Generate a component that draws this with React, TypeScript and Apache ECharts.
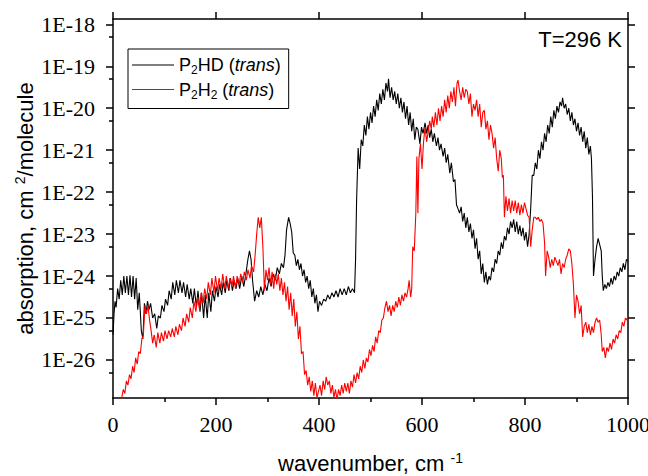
import React, { useEffect, useRef } from "react";
import * as echarts from "echarts";

// y values are log10 of absorption (cm^2/molecule)
const Y_MIN = -26.907;
const Y_MAX = -17.873;
const xMajorTicks = [0, 200, 400, 600, 800, 1000];
const yDecades = [-26, -25, -24, -23, -22, -21, -20, -19, -18];
const yMinor = [-26.301, -25.301, -24.301, -23.301, -22.301, -21.301, -20.301, -19.301, -18.301];
const seriesNames = ["P2HD (trans)", "P2H2 (trans)"];
const temperatureLabel = "T=296 K";

const p2hdLog: [number, number][] = [
  [0, -25.4], [2, -24.9], [4, -24.6], [6, -24.75], [9, -24.3], [12, -24.55], [15, -24.1], [18, -24.45],
  [21, -24.0], [24, -24.4], [27, -24.0], [30, -24.45], [33, -23.98], [36, -24.5], [39, -24.0], [42, -24.55],
  [45, -24.05], [48, -24.8], [51, -24.4], [55, -25.3], [58, -25.5], [61, -24.65], [64, -24.9], [67, -24.6],
  [70, -24.8], [73, -24.65], [77, -25.0], [81, -24.9], [85, -25.25], [88, -24.95], [92, -25.0], [95, -24.7],
  [99, -24.85], [102, -24.55], [106, -24.7], [109, -24.35], [113, -24.55], [116, -24.15], [120, -24.45],
  [123, -24.1], [127, -24.4], [130, -24.1], [134, -24.4], [137, -24.15], [141, -24.5], [144, -24.2],
  [148, -24.55], [151, -24.3], [155, -24.65], [158, -24.3], [162, -24.75], [165, -24.35], [169, -24.85],
  [172, -24.4], [176, -25.0], [179, -24.45], [183, -25.0], [186, -24.4], [190, -24.85], [193, -24.35],
  [197, -24.6], [200, -24.25], [204, -24.5], [207, -24.2], [211, -24.45], [214, -24.15], [218, -24.4],
  [221, -24.1], [225, -24.35], [228, -24.05], [232, -24.35], [235, -24.1], [239, -24.3], [242, -24.05],
  [246, -24.3], [250, -24.0], [254, -24.25], [258, -23.95], [262, -23.6], [265, -23.4], [268, -23.6],
  [271, -24.1], [275, -24.6], [279, -24.35], [283, -24.5], [287, -24.25], [291, -24.45], [295, -24.2],
  [299, -24.35], [303, -24.05], [307, -24.25], [311, -23.95], [315, -24.1], [319, -23.8], [323, -23.95],
  [327, -23.7], [331, -23.8], [334, -23.5], [337, -22.9], [341, -22.6], [344, -22.75], [347, -22.95],
  [350, -23.45], [353, -23.5], [356, -23.75], [359, -23.6], [362, -23.85], [365, -23.7], [368, -24.0],
  [371, -23.85], [374, -24.15], [377, -24.0], [380, -24.3], [383, -24.1], [386, -24.5], [389, -24.3],
  [392, -24.65], [395, -24.45], [398, -24.85], [401, -24.6], [405, -24.7], [409, -24.55], [413, -24.6],
  [417, -24.45], [421, -24.55], [425, -24.4], [429, -24.5], [433, -24.35], [437, -24.5], [441, -24.3],
  [445, -24.45], [449, -24.3], [453, -24.45], [457, -24.25], [461, -24.4], [465, -24.3], [469, -24.4],
  [471, -23.6], [473, -22.2], [476, -20.95], [479, -21.45], [482, -20.75], [485, -20.9], [488, -20.4],
  [491, -20.65], [494, -20.2], [497, -20.5], [500, -20.1], [503, -20.35], [506, -19.95], [509, -20.2],
  [512, -19.8], [515, -20.05], [518, -19.65], [521, -19.9], [524, -19.55], [527, -19.8], [530, -19.4],
  [533, -19.6], [535, -19.3], [538, -19.75], [541, -19.5], [544, -19.8], [547, -19.6], [550, -19.9],
  [553, -19.65], [556, -20.0], [559, -19.75], [562, -20.1], [565, -19.85], [568, -20.25], [571, -19.95],
  [574, -20.4], [577, -20.1], [580, -20.55], [583, -20.25], [586, -20.75], [589, -20.45], [592, -20.5],
  [596, -20.85], [599, -20.45], [602, -20.6], [606, -20.35], [609, -20.6], [612, -20.4], [615, -20.7],
  [618, -20.5], [621, -20.8], [624, -20.6], [628, -20.9], [631, -20.7], [634, -21.0], [637, -20.85],
  [641, -21.15], [644, -20.95], [647, -21.3], [650, -21.1], [654, -21.55], [657, -21.3], [661, -21.75],
  [664, -21.7], [667, -22.3], [670, -22.4], [673, -22.5], [676, -22.35], [679, -22.7], [682, -22.5],
  [685, -22.85], [688, -22.6], [691, -22.95], [694, -22.75], [697, -23.1], [700, -22.9], [703, -23.35],
  [706, -23.1], [709, -23.6], [712, -23.4], [715, -23.95], [718, -23.7], [721, -24.15], [724, -23.9],
  [727, -24.2], [730, -24.0], [733, -24.1], [736, -23.8], [739, -23.9], [742, -23.6], [745, -23.7],
  [748, -23.4], [751, -23.5], [754, -23.2], [757, -23.35], [760, -23.05], [763, -23.15], [766, -22.85],
  [769, -23.0], [772, -22.7], [775, -22.85], [778, -22.65], [781, -22.95], [784, -22.7], [787, -23.0],
  [790, -22.8], [793, -23.05], [796, -22.85], [799, -23.15], [802, -22.95], [805, -23.3], [808, -23.0],
  [811, -22.4], [814, -21.6], [817, -21.6], [820, -21.3], [823, -21.45], [826, -21.0], [829, -21.2],
  [832, -20.8], [835, -21.0], [838, -20.6], [841, -20.8], [844, -20.4], [847, -20.6], [850, -20.2],
  [853, -20.45], [856, -20.05], [859, -20.25], [862, -19.95], [865, -20.1], [868, -19.85], [871, -19.95],
  [873, -19.75], [876, -20.0], [879, -19.9], [882, -20.15], [885, -20.0], [888, -20.3], [891, -20.1],
  [894, -20.4], [897, -20.25], [900, -20.55], [903, -20.35], [906, -20.65], [909, -20.45], [912, -20.8],
  [915, -20.55], [918, -20.95], [921, -20.7], [924, -21.1], [927, -20.9], [929, -21.2], [931, -22.1],
  [933, -24.0], [936, -23.6], [939, -23.3], [942, -23.1], [945, -23.25], [948, -23.4], [950, -24.0],
  [952, -24.35], [955, -24.2], [958, -24.3], [961, -24.15], [964, -24.25], [967, -24.05], [970, -24.2],
  [973, -24.0], [976, -24.1], [979, -23.9], [982, -24.0], [985, -23.8], [988, -23.9], [991, -23.7],
  [994, -23.85], [997, -23.6], [1000, -23.65],
];

const p2h2Log: [number, number][] = [
  [14, -27.0], [17, -26.9], [20, -26.7], [23, -26.8], [26, -26.5], [29, -26.6], [32, -26.35], [35, -26.45],
  [38, -26.15], [41, -26.3], [44, -25.95], [47, -26.1], [50, -25.8], [53, -25.85], [56, -25.5], [59, -25.4],
  [62, -24.7], [65, -24.9], [68, -24.7], [71, -25.05], [74, -25.3], [77, -25.6], [80, -25.4], [84, -25.7],
  [87, -25.35], [91, -25.6], [94, -25.35], [98, -25.55], [101, -25.3], [105, -25.5], [108, -25.3],
  [112, -25.45], [115, -25.25], [119, -25.45], [122, -25.2], [126, -25.4], [129, -25.15], [133, -25.3],
  [136, -25.0], [140, -25.2], [143, -24.9], [147, -25.1], [150, -24.75], [154, -25.0], [157, -24.6],
  [161, -24.85], [164, -24.5], [168, -24.8], [171, -24.4], [175, -24.65], [178, -24.3], [182, -24.55],
  [185, -24.15], [189, -24.45], [192, -24.05], [196, -24.4], [199, -24.0], [203, -24.35], [206, -24.05],
  [210, -24.3], [213, -23.95], [217, -24.3], [220, -24.0], [224, -24.3], [227, -24.05], [231, -24.25],
  [234, -24.0], [238, -24.3], [241, -24.0], [245, -24.2], [248, -23.95], [252, -24.15], [255, -23.9],
  [259, -24.1], [262, -23.85], [266, -24.05], [269, -23.75], [273, -23.9], [276, -23.5], [279, -23.0],
  [282, -22.6], [285, -22.85], [288, -22.6], [291, -23.3], [294, -24.35], [297, -23.85], [300, -24.1],
  [303, -23.8], [306, -24.2], [309, -23.9], [312, -24.3], [315, -23.95], [318, -24.2], [321, -23.95],
  [324, -24.35], [327, -24.05], [330, -24.45], [333, -24.15], [336, -24.6], [339, -24.25], [342, -24.8],
  [345, -24.4], [348, -24.95], [351, -24.55], [354, -25.2], [357, -24.85], [360, -25.5], [363, -25.2],
  [366, -25.85], [369, -25.8], [372, -26.35], [375, -26.25], [378, -26.6], [381, -26.4], [384, -26.75],
  [387, -26.5], [390, -26.85], [393, -26.55], [396, -26.9], [399, -26.75], [402, -26.6], [405, -26.85],
  [408, -26.5], [411, -26.7], [414, -26.4], [417, -26.6], [420, -26.5], [423, -26.8], [426, -26.6],
  [429, -26.9], [432, -26.7], [435, -26.95], [438, -26.7], [441, -26.85], [444, -26.6], [447, -26.8],
  [450, -26.55], [453, -26.75], [456, -26.55], [459, -26.8], [462, -26.5], [465, -26.65], [468, -26.35],
  [471, -26.55], [474, -26.3], [477, -26.45], [480, -26.15], [483, -26.3], [486, -26.0], [489, -26.2],
  [492, -25.95], [495, -26.05], [498, -25.75], [501, -25.9], [504, -25.65], [507, -25.8], [510, -25.45],
  [513, -25.6], [516, -25.3], [519, -25.35], [522, -25.05], [525, -25.0], [528, -24.75], [531, -24.6],
  [534, -24.85], [537, -24.7], [540, -24.95], [543, -24.7], [546, -24.85], [549, -24.6], [552, -24.75],
  [555, -24.5], [558, -24.7], [561, -24.45], [564, -24.6], [567, -24.4], [570, -24.5], [573, -24.3],
  [575, -24.1], [578, -24.5], [580, -24.3], [582, -23.3], [585, -23.4], [588, -22.5], [590, -21.15],
  [592, -22.5], [594, -21.2], [597, -20.85], [600, -21.45], [603, -20.8], [606, -20.45], [609, -20.8],
  [612, -20.55], [615, -20.3], [618, -20.5], [620, -20.2], [623, -20.45], [626, -20.1], [629, -20.4],
  [632, -20.0], [635, -20.3], [638, -19.95], [641, -20.2], [644, -19.8], [647, -20.1], [650, -19.7],
  [653, -20.0], [656, -19.6], [659, -19.85], [662, -19.5], [665, -19.95], [668, -19.4], [670, -19.33],
  [673, -19.6], [676, -19.8], [679, -19.5], [682, -19.75], [685, -19.55], [688, -19.6], [691, -19.9],
  [694, -19.65], [697, -20.2], [700, -19.9], [703, -20.05], [706, -19.8], [709, -20.2], [712, -19.9],
  [715, -20.45], [718, -20.1], [721, -20.05], [724, -20.5], [727, -20.3], [730, -20.75], [733, -20.4],
  [736, -20.6], [739, -20.95], [742, -20.7], [745, -21.2], [748, -21.5], [751, -21.0], [754, -21.2],
  [756, -21.65], [758, -21.6], [760, -22.6], [763, -22.1], [766, -22.45], [769, -22.15], [772, -22.5],
  [775, -22.2], [778, -22.45], [781, -22.2], [784, -22.5], [787, -22.25], [790, -22.55], [793, -22.3],
  [796, -22.5], [799, -22.25], [802, -22.4], [805, -22.55], [808, -22.6], [811, -23.3], [814, -22.9],
  [817, -22.6], [820, -22.6], [823, -22.65], [826, -22.6], [829, -22.7], [832, -22.65], [835, -22.75],
  [838, -23.2], [840, -24.0], [843, -23.4], [846, -23.55], [849, -23.8], [852, -23.6], [855, -23.75],
  [858, -23.55], [861, -23.65], [864, -23.75], [867, -23.6], [870, -23.95], [873, -23.7], [876, -23.8],
  [879, -23.6], [882, -23.5], [885, -23.35], [888, -23.4], [891, -23.7], [894, -24.2], [897, -25.0],
  [900, -24.45], [903, -24.6], [906, -24.9], [909, -24.7], [912, -25.45], [915, -25.2], [918, -25.1],
  [921, -25.35], [924, -25.15], [927, -25.4], [930, -25.2], [933, -25.35], [936, -25.1], [939, -25.0],
  [942, -25.1], [945, -25.05], [948, -25.4], [950, -25.8], [953, -25.7], [956, -25.95], [959, -25.7],
  [962, -25.8], [965, -25.6], [968, -25.75], [971, -25.5], [974, -25.6], [977, -25.4], [980, -25.5],
  [983, -25.3], [986, -25.35], [989, -25.1], [992, -25.2], [995, -25.0], [998, -25.05], [1000, -24.95],
];

const SANS = "Liberation Sans";
const SERIF = "Liberation Serif";
const AXIS_W = 1.5;

export default function App() {
  const ref = useRef<HTMLDivElement>(null);
  useEffect(() => {
    if (!ref.current) return;
    const chart = echarts.init(ref.current, undefined, { renderer: "svg" });
    const line = { color: "#000", width: AXIS_W };
    const option: any = {
      animation: false,
      backgroundColor: "#fff",
      grid: { left: 113, right: 20, top: 19, bottom: 78, containLabel: false, outerBoundsMode: "none" },
      legend: {
        orient: "vertical",
        left: 128,
        top: 49,
        data: seriesNames,
        icon: "rect",
        borderColor: "#000",
        borderWidth: 1,
        borderRadius: 0,
        backgroundColor: "#fff",
        padding: [7, 8, 8, 4],
        itemGap: 4.5,
        itemWidth: 42,
        itemHeight: 1.2,
        formatter: (name: string) =>
          name === seriesNames[0]
            ? "{n|P}{s|2}{n|HD (}{i|trans}{n|)}"
            : "{n|P}{s|2}{n|H}{s|2}{n| (}{i|trans}{n|)}",
        textStyle: {
          fontFamily: SANS,
          fontSize: 18,
          color: "#000",
          rich: {
            n: { fontFamily: SANS, fontSize: 18, lineHeight: 22, color: "#000" },
            i: { fontFamily: SANS, fontSize: 18, lineHeight: 22, fontStyle: "italic", color: "#000" },
            s: { fontFamily: SANS, fontSize: 12, lineHeight: 12, verticalAlign: "bottom", color: "#000" },
          },
        },
      },
      graphic: [
        {
          type: "text",
          right: 26,
          top: 28,
          style: { text: temperatureLabel, font: `22px "${SANS}"`, fill: "#000" },
        },
      ],
      xAxis: [
        {
          type: "value",
          position: "bottom",
          min: 0,
          max: 1000,
          interval: 200,
          axisLine: { show: true, onZero: false, lineStyle: line },
          axisTick: { show: true, inside: false, length: 7, lineStyle: line },
          minorTick: { show: true, splitNumber: 2, length: 4, lineStyle: line },
          splitLine: { show: false },
          axisLabel: {
            margin: 15,
            fontFamily: SERIF,
            fontSize: 22,
            color: "#000",
            formatter: (v: number) => String(v),
          },
          name: "wavenumber, cm {sup|-1}",
          nameLocation: "middle",
          nameGap: 53,
          nameMoveOverlap: false,
          nameTextStyle: {
            fontFamily: SANS,
            fontSize: 22,
            lineHeight: 24,
            color: "#000",
            rich: { sup: { fontFamily: SANS, fontSize: 14, lineHeight: 14, verticalAlign: "top", color: "#000" } },
          },
        },
        {
          type: "value",
          position: "top",
          min: 0,
          max: 1000,
          interval: 200,
          axisLine: { show: true, onZero: false, lineStyle: line },
          axisTick: { show: true, inside: false, length: 7, lineStyle: line },
          splitLine: { show: false },
          axisLabel: { show: false },
        },
      ],
      yAxis: [
        {
          type: "value",
          position: "left",
          min: Y_MIN,
          max: Y_MAX,
          axisLine: { show: true, onZero: false, lineStyle: line },
          axisTick: { show: true, inside: false, length: 7, lineStyle: line, customValues: yDecades },
          splitLine: { show: false },
          axisLabel: {
            customValues: yDecades,
            margin: 18,
            fontFamily: SERIF,
            fontSize: 22,
            color: "#000",
            formatter: (v: number) => `1E${Math.round(v)}`,
          },
          name: "absorption, cm {sup|2}/molecule",
          nameLocation: "middle",
          nameGap: 76,
          nameMoveOverlap: false,
          nameTextStyle: {
            fontFamily: SANS,
            fontSize: 22,
            lineHeight: 24,
            color: "#000",
            rich: { sup: { fontFamily: SANS, fontSize: 14, lineHeight: 14, verticalAlign: "top", color: "#000" } },
          },
        },
        {
          type: "value",
          position: "right",
          min: Y_MIN,
          max: Y_MAX,
          axisLine: { show: true, onZero: false, lineStyle: line },
          axisTick: { show: true, inside: false, length: 7, lineStyle: line, customValues: yDecades },
          splitLine: { show: false },
          axisLabel: { show: false },
        },
        {
          type: "value",
          position: "left",
          min: Y_MIN,
          max: Y_MAX,
          axisLine: { show: false, onZero: false },
          axisTick: { show: true, inside: false, length: 4, lineStyle: line, customValues: yMinor },
          splitLine: { show: false },
          axisLabel: { show: false },
        },
      ],
      series: [
        {
          name: seriesNames[0],
          type: "line",
          data: p2hdLog,
          xAxisIndex: 0,
          yAxisIndex: 0,
          showSymbol: false,
          symbol: "none",
          clip: true,
          lineStyle: { color: "#000", width: 1.1 },
          itemStyle: { color: "#000" },
        },
        {
          name: seriesNames[1],
          type: "line",
          data: p2h2Log,
          xAxisIndex: 0,
          yAxisIndex: 0,
          showSymbol: false,
          symbol: "none",
          clip: true,
          lineStyle: { color: "#ff0000", width: 1.1 },
          itemStyle: { color: "#ff0000" },
        },
      ],
    };
    chart.setOption(option);
    return () => chart.dispose();
  }, []);
  return (
    <div
      ref={ref}
      style={{ position: "fixed", left: 0, top: 0, width: 648, height: 476, background: "#fff" }}
    />
  );
}
